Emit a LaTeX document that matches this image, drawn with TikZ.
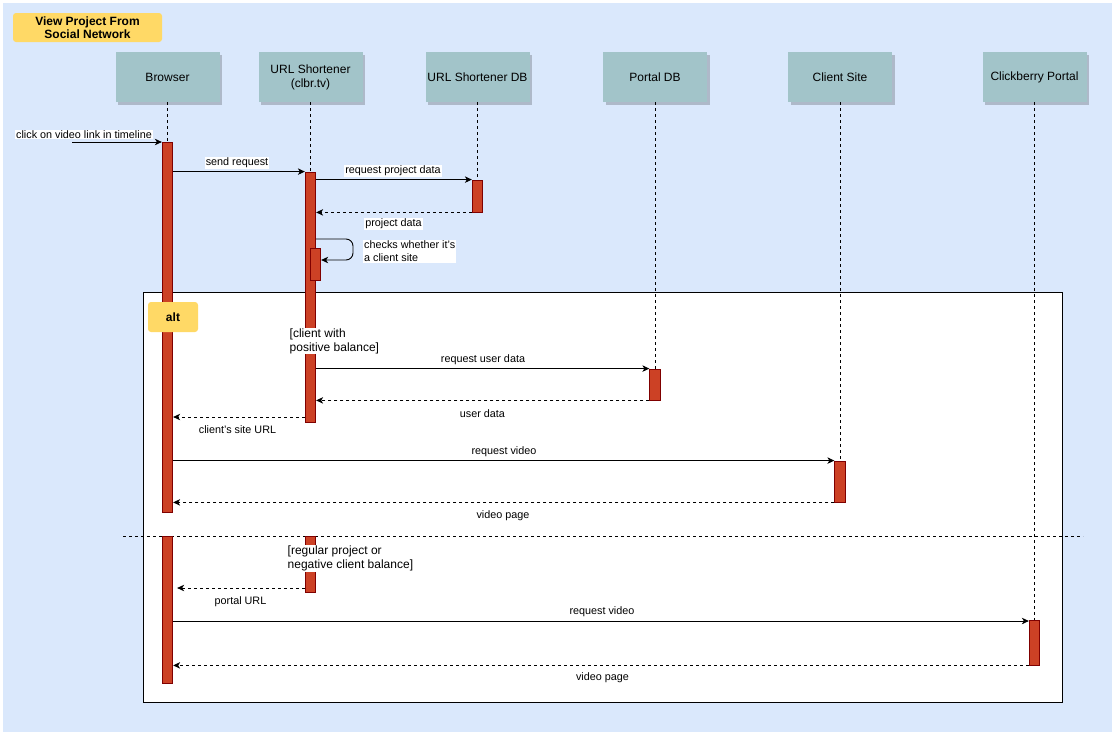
\documentclass[tikz,border=0pt]{standalone}
\usepackage{fontspec}
\setmainfont{Liberation Sans}
\usetikzlibrary{arrows.meta,shadows,calc}
\definecolor{bgblue}{HTML}{DAE8FC}
\definecolor{hdr}{HTML}{A2C4C9}
\definecolor{barred}{HTML}{CC4125}
\definecolor{barline}{HTML}{7F0000}
\definecolor{ylw}{HTML}{FFD966}
\begin{document}
\begin{tikzpicture}[x=1pt,y=-1pt,
 hdrbox/.style={fill=hdr, minimum width=104pt, minimum height=50pt, inner sep=0pt, align=center, font=\fontsize{12}{14}\selectfont, drop shadow={shadow xshift=2.5pt, shadow yshift=-2.5pt, fill=black, opacity=0.2}},
 actbar/.style={fill=barred, draw=barline, line width=0.8pt, minimum width=10.5pt, inner sep=0pt},
 life/.style={dash pattern=on 3pt off 3pt, line width=0.9pt},
 msg/.style={line width=0.9pt, -{Stealth[length=7pt,width=6.5pt,inset=2pt]}},
 ret/.style={msg, dash pattern=on 3pt off 3pt},
 lbl/.style={fill=white, inner sep=1pt, font=\fontsize{10.8}{13}\selectfont},
 guard/.style={fill=white, inner sep=0.5pt, align=left, font=\fontsize{12}{14}\selectfont},
 tag/.style={fill=ylw, rounded corners=3pt, inner sep=0pt, align=center, font=\bfseries\fontsize{12}{13.3}\selectfont}
]
\useasboundingbox (0,0) rectangle (1114,734);
\fill[white] (0,0) rectangle (1114,734);
\fill[bgblue] (3,3) rectangle (1112,732);

% title
\node[tag, minimum width=149pt, minimum height=29pt] (title) at (87.5,27.5) {View Project From\\Social Network};

% headers
\node[hdrbox] (browser) at (167.5,77) {Browser};
\node[hdrbox] (shortener) at (310.5,77) {URL Shortener\\(clbr.tv)};
\node[hdrbox] (shortdb) at (477.5,77) {URL Shortener DB};
\node[hdrbox] (portaldb) at (655,77) {Portal DB};
\node[hdrbox] (client) at (840,77) {Client Site};
\node[hdrbox] (clickberry) at (1034.5,77) {Clickberry Portal};

% alt frame
\node[draw, fill=white, line width=0.9pt, minimum width=919pt, minimum height=410pt, inner sep=0pt] (altframe) at (602.5,497) {};
\coordinate (sepL) at (123,536);
\coordinate (sepR) at (1083,536);
\draw[life] (sepL) -- (sepR);

% activation bars (positions)
\path
 node[actbar, minimum height=370pt] (brA) at (167.5,327) {}
 node[actbar, minimum height=147pt] (brB) at (167.5,609.5) {}
 node[actbar, minimum height=250pt] (usA) at (310.5,297) {}
 node[actbar, minimum height=56pt] (usB) at (310.5,564) {}
 node[actbar, minimum height=32pt] (dbA) at (477.5,196) {}
 node[actbar, minimum height=31pt] (pdA) at (655,384.5) {}
 node[actbar, minimum height=41pt] (csA) at (840,481.5) {}
 node[actbar, minimum height=45pt] (cbA) at (1034.5,642.5) {};

% lifelines
\draw[life] (browser.south) -- (brA.north);
\draw[life] (shortener.south) -- (usA.north);
\draw[life] (shortdb.south) -- (dbA.north);
\draw[life] (portaldb.south) -- (pdA.north);
\draw[life] (client.south) -- (csA.north);
\draw[life] (clickberry.south) -- (cbA.north);

% redraw bars on top of lifelines
\node[actbar, minimum height=370pt] at (brA) {};
\node[actbar, minimum height=147pt] at (brB) {};
\node[actbar, minimum height=250pt] at (usA) {};
\node[actbar, minimum height=56pt] at (usB) {};
\node[actbar, minimum height=32pt] at (dbA) {};
\node[actbar, minimum height=31pt] at (pdA) {};
\node[actbar, minimum height=41pt] at (csA) {};
\node[actbar, minimum height=45pt] at (cbA) {};
\node[actbar, minimum height=32pt] (usS) at (315.5,264) {};

% alt tag over the bar
\node[tag, minimum width=50pt, minimum height=30pt] (alttag) at (173,317) {alt};

% messages
\coordinate (clickstart) at (72,142);
\draw[msg] (clickstart) -- (brA.west |- clickstart);
\node[lbl] (l1) at (84,134.5) {click on video link in timeline};

\draw[msg] (brA.east |- usA.north) -- (usA.north west);
\node[lbl] (l2) at (237,163) {send request};

\draw[msg] (usA.east |- dbA.north) -- (dbA.north west);
\node[lbl] (l3) at (393,171) {request project data};

\draw[ret] (dbA.south west) -- (usA.east |- dbA.south);
\node[lbl] (l4) at (393.5,224) {project data};

\draw[msg, rounded corners=7pt] (usA.east |- 0,239) -| (353,260) -- (usS.east |- 0,260);
\node[lbl, align=left, anchor=west] (l5) at (363,251.5) {checks whether it's\\a client site};

\node[guard, anchor=west] (g1) at (289,341) {[client with\\positive balance]};

\draw[msg] (usA.east |- pdA.north) -- (pdA.north west);
\node[lbl] (l6) at (483,360) {request user data};

\draw[ret] (pdA.south west) -- (usA.east |- pdA.south);
\node[lbl] (l7) at (482.5,414) {user data};

\draw[ret] (usA.west |- 0,417) -- (brA.east |- 0,417);
\node[lbl] (l8) at (237.5,430) {client's site URL};

\draw[msg] (brA.east |- csA.north) -- (csA.north west);
\node[lbl] (l9) at (504,452) {request video};

\draw[ret] (csA.south west) -- (brA.east |- csA.south);
\node[lbl] (l10) at (503,516) {video page};

\node[guard, anchor=west] (g2) at (287,558.5) {[regular project or\\negative client balance]};

\draw[ret, shorten >=4pt] (usB.west |- 0,588) -- (brB.east |- 0,588);
\node[lbl] (l11) at (240.5,602) {portal URL};

\draw[msg] (brB.east |- 0,621) -- (cbA.west |- 0,621);
\node[lbl] (l12) at (602,612) {request video};

\draw[ret] (cbA.south west) -- (brB.east |- cbA.south);
\node[lbl] (l13) at (602.5,678) {video page};
\end{tikzpicture}
\end{document}
